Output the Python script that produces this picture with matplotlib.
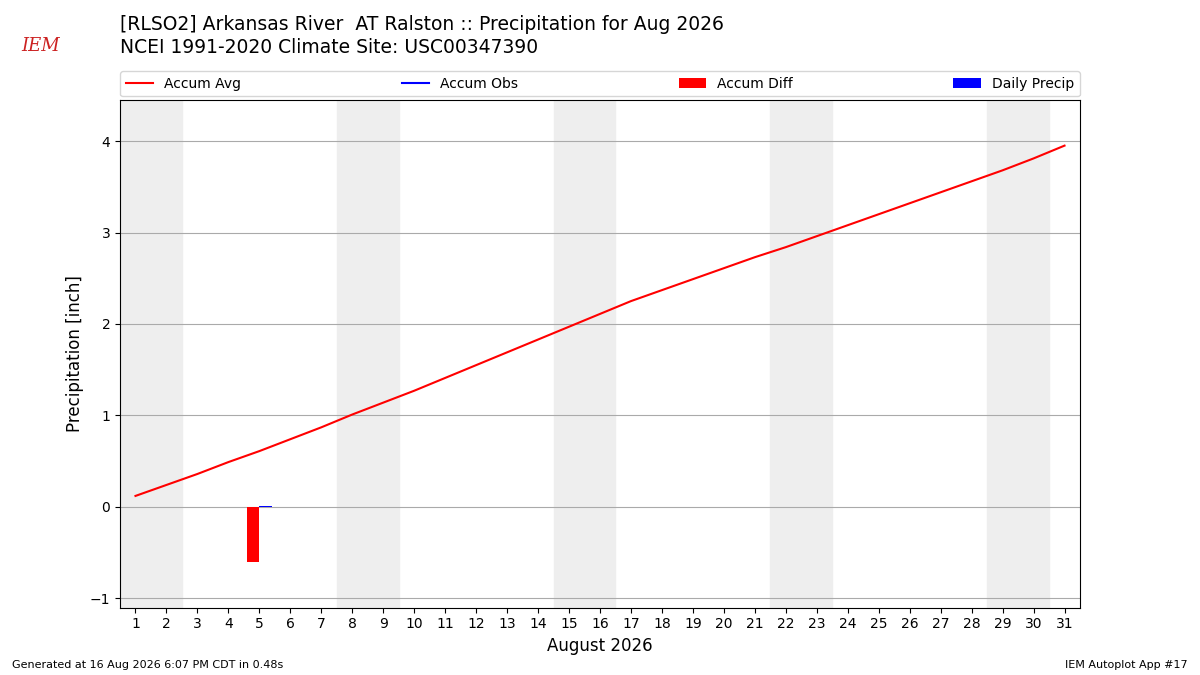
import matplotlib
matplotlib.use("Agg")
import matplotlib.pyplot as plt

days = list(range(1, 32))
accum_avg = [0.12,0.24,0.36,0.49,0.61,0.74,0.87,1.01,1.14,1.27,1.41,1.55,1.69,1.83,1.97,2.11,2.25,2.37,2.49,2.61,2.73,2.84,2.96,3.08,3.20,3.32,3.44,3.56,3.68,3.81,3.95]
obs_days = [5]
accum_obs = [0.01]
daily_precip = [0.01]
accum_diff = [-0.60]
weekends = [1, 8, 15, 22, 29]

fig = plt.figure(figsize=(12, 6.75), dpi=100)
ax = fig.add_axes([0.1, 0.1, 0.8, 0.752])
for w in weekends:
    ax.axvspan(w - 0.5, w + 1.5, color="#eeeeee", zorder=0)
ax.plot(days, accum_avg, color="red", label="Accum Avg", zorder=3)
ax.plot(obs_days, accum_obs, color="blue", label="Accum Obs", zorder=3)
ax.bar([d - 0.2 for d in obs_days], accum_diff, width=0.4, color="red", label="Accum Diff", zorder=2)
ax.bar([d + 0.2 for d in obs_days], daily_precip, width=0.4, color="blue", label="Daily Precip", zorder=2)
ax.set_xlim(0.5, 31.5)
ax.set_ylim(-1.1, 4.45)
ax.set_xticks(days)
ax.set_yticks([-1, 0, 1, 2, 3, 4])
ax.grid(axis="y", color="#aaaaaa", lw=0.8)
ax.set_axisbelow(True)
ax.set_xlabel("August 2026", fontsize=12)
ax.set_ylabel("Precipitation [inch]", fontsize=12)
ax.legend(loc="lower left", bbox_to_anchor=(0, 1.007, 1, 0.1), ncol=4, mode="expand", borderaxespad=0, fontsize=10)
fig.text(0.1, 0.949, "[RLSO2] Arkansas River  AT Ralston :: Precipitation for Aug 2026", fontsize=13.5, va="bottom")
fig.text(0.1, 0.915, "NCEI 1991-2020 Climate Site: USC00347390", fontsize=13.5, va="bottom")
fig.text(0.01, 0.01, "Generated at 16 Aug 2026 6:07 PM CDT in 0.48s", fontsize=8)
fig.text(0.99, 0.01, "IEM Autoplot App #17", fontsize=8, ha="right")
fig.text(0.018, 0.925, "IEM", fontsize=13, color="#cc2222", style="italic", family="DejaVu Serif")
fig.savefig("out.png")
